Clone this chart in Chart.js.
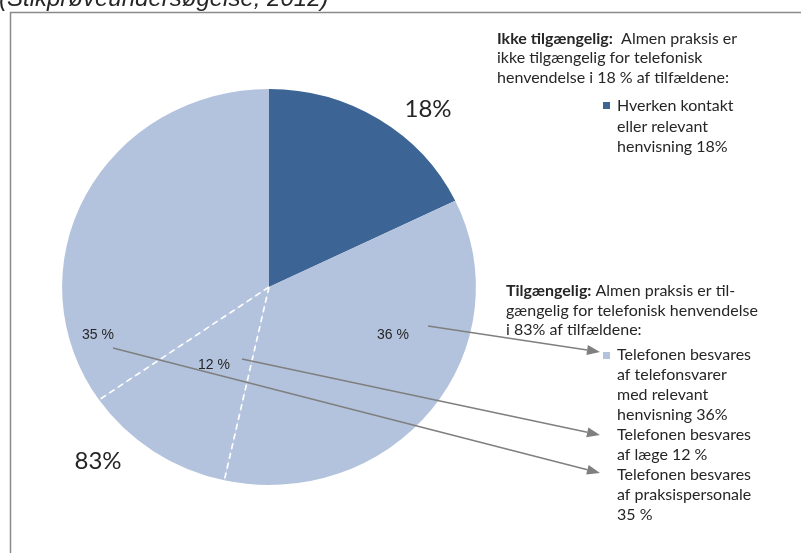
<!DOCTYPE html>
<html>
<head>
<meta charset="utf-8">
<script src="https://cdn.jsdelivr.net/npm/chart.js@4.4.1/dist/chart.umd.min.js"></script>
<style>
  html, body { margin: 0; padding: 0; background: #fff; }
  #wrap { width: 801px; height: 553px; position: relative; }
</style>
</head>
<body>
<div id="wrap"><canvas id="kagediagram" width="801" height="553"></canvas></div>
<script>
// data
const kategorier = [
  'Hverken kontakt eller relevant henvisning',
  'Telefonen besvares af telefonsvarer med relevant henvisning',
  'Telefonen besvares af læge',
  'Telefonen besvares af praksispersonale'
];
const andele = [18, 36, 12, 35];
const andelTekster = ['18%', '36 %', '12 %', '35 %'];
const farver = ['#3c6494', '#b4c3dd', '#b4c3dd', '#b4c3dd'];
const tilgaengeligTekst = '83%';
const kilde = '(Stikprøveundersøgelse, 2012)';

const MORK = '#262626';
const CAL = 'Lato, "Open Sans", sans-serif';
const ARIAL = '"Liberation Sans", Arial, sans-serif';
const xStraek = 1.045; // kagen er en smule bredere end hoej
const TXT = '16px ' + CAL;

// tegn en linje med fed start og normal rest
function blandetLinje(ctx, x, y, fed, normal) {
  ctx.font = 'bold ' + TXT;
  ctx.fillText(fed, x, y);
  const w = ctx.measureText(fed).width;
  ctx.font = TXT;
  ctx.fillText(normal, x + w, y);
}

function pil(ctx, x1, y1, x2, y2) {
  const a = Math.atan2(y2 - y1, x2 - x1);
  const len = 13, half = 5;
  ctx.strokeStyle = '#7f7f7f';
  ctx.fillStyle = '#7f7f7f';
  ctx.lineWidth = 1.5;
  ctx.beginPath();
  ctx.moveTo(x1, y1);
  ctx.lineTo(x2 - len * Math.cos(a), y2 - len * Math.sin(a));
  ctx.stroke();
  ctx.beginPath();
  ctx.moveTo(x2, y2);
  ctx.lineTo(x2 - len * Math.cos(a) - half * Math.sin(a), y2 - len * Math.sin(a) + half * Math.cos(a));
  ctx.lineTo(x2 - len * Math.cos(a) + half * Math.sin(a), y2 - len * Math.sin(a) - half * Math.cos(a));
  ctx.closePath();
  ctx.fill();
}

const stil = {
  id: 'stil',
  beforeDraw(chart) {
    const ctx = chart.ctx;
    ctx.save();
    ctx.fillStyle = '#fff';
    ctx.fillRect(0, 0, chart.width, chart.height);
    // ramme
    ctx.strokeStyle = '#8a8a8a';
    ctx.lineWidth = 1.5;
    ctx.strokeRect(10.5, 12.5, 900, 700);
    // kilde
    ctx.fillStyle = MORK;
    ctx.font = 'italic 24px ' + ARIAL;
    ctx.textBaseline = 'alphabetic';
    ctx.fillText(kilde, -1, 6);
    ctx.restore();
  },
  beforeDatasetsDraw(chart) {
    const arc = chart.getDatasetMeta(0).data[0];
    const ctx = chart.ctx;
    ctx.save();
    ctx.translate(arc.x, arc.y);
    ctx.scale(xStraek, 1);
    ctx.translate(-arc.x, -arc.y);
  },
  afterDatasetsDraw(chart) {
    const ctx = chart.ctx;
    const buer = chart.getDatasetMeta(0).data;
    // stiplede skillelinjer mellem de lyse stykker
    ctx.strokeStyle = '#ffffff';
    ctx.lineWidth = 1.6;
    ctx.setLineDash([6, 4]);
    [1, 2].forEach(i => {
      const b = buer[i];
      ctx.beginPath();
      ctx.moveTo(b.x, b.y);
      ctx.lineTo(b.x + b.outerRadius * Math.cos(b.endAngle), b.y + b.outerRadius * Math.sin(b.endAngle));
      ctx.stroke();
    });
    ctx.setLineDash([]);
    ctx.restore();
  },
  afterDraw(chart) {
    const ctx = chart.ctx;
    ctx.save();
    ctx.textBaseline = 'middle';
    ctx.textAlign = 'center';
    ctx.fillStyle = MORK;
    ctx.font = '24px ' + CAL;
    ctx.fillText(andelTekster[0], 428, 109);
    ctx.fillText(tilgaengeligTekst, 98, 461);
    ctx.font = '14px ' + ARIAL;
    ctx.fillText(andelTekster[1], 393, 335);
    ctx.fillText(andelTekster[3], 98, 335);
    ctx.fillText(andelTekster[2], 214, 365);

    // pile
    pil(ctx, 428, 326, 600, 352);
    pil(ctx, 242, 359, 600, 435);
    pil(ctx, 113, 348, 600, 473);

    // tekstblok 1
    ctx.textAlign = 'left';
    ctx.fillStyle = MORK;
    blandetLinje(ctx, 497, 39, 'Ikke tilgængelig:', '  Almen praksis er');
    ctx.font = TXT;
    ctx.fillText('ikke tilgængelig for telefonisk', 497, 58);
    ctx.fillText('henvendelse i 18 % af tilfældene:', 497, 78);
    ctx.fillStyle = farver[0];
    ctx.fillRect(603, 102, 7, 7);
    ctx.fillStyle = MORK;
    ['Hverken kontakt', 'eller relevant', 'henvisning ' + andele[0] + '%'].forEach((t, i) => {
      ctx.fillText(t, 617, 106 + i * 20.5);
    });

    // tekstblok 2
    blandetLinje(ctx, 506, 291, 'Tilgængelig:', ' Almen praksis er til-');
    ctx.font = TXT;
    ctx.fillText('gængelig for telefonisk henvendelse', 506, 311);
    ctx.fillText('i 83% af tilfældene:', 506, 330);
    ctx.fillStyle = farver[1];
    ctx.fillRect(603, 352, 7, 7);
    ctx.fillStyle = MORK;
    const linjer = [
      'Telefonen besvares', 'af telefonsvarer', 'med relevant', 'henvisning ' + andele[1] + '%',
      'Telefonen besvares', 'af læge ' + andele[2] + ' %',
      'Telefonen besvares', 'af praksispersonale', andele[3] + ' %'
    ];
    linjer.forEach((t, i) => {
      ctx.fillText(t, 617, 355 + i * 20);
    });
    ctx.restore();
  }
};

new Chart(document.getElementById('kagediagram'), {
  type: 'pie',
  data: {
    labels: kategorier,
    datasets: [{
      data: andele,
      backgroundColor: farver,
      borderWidth: 0,
      hoverOffset: 0
    }]
  },
  options: {
    responsive: false,
    animation: false,
    events: [],
    layout: { padding: { left: 71, right: 334, top: 89, bottom: 68 } },
    plugins: {
      legend: { display: false },
      tooltip: { enabled: false },
      title: { display: false }
    }
  },
  plugins: [stil]
});
</script>
</body>
</html>
